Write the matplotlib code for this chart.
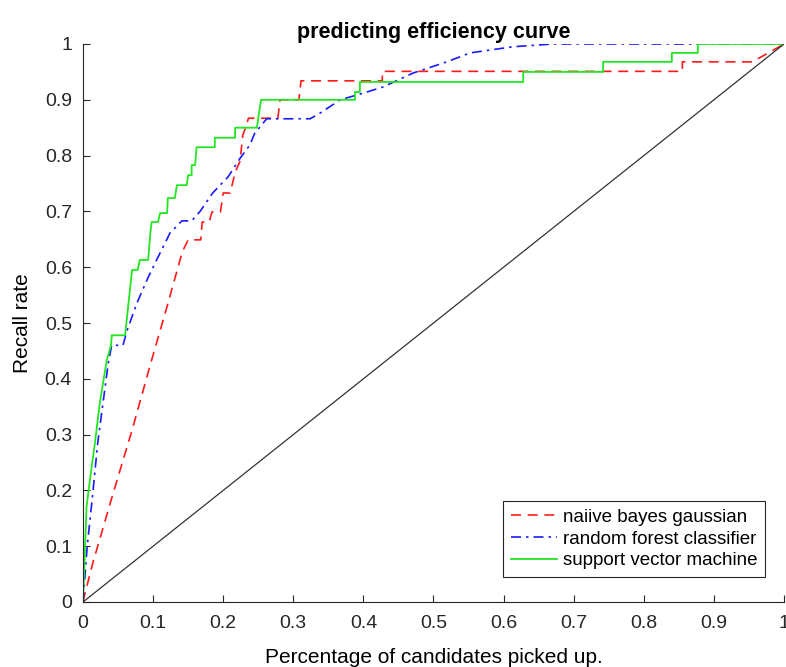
import matplotlib
matplotlib.use("Agg")
import matplotlib.pyplot as plt

plt.rcParams["font.family"] = ["Liberation Sans", "DejaVu Sans"]

# naive bayes (red dashed)
nb_x = [0, 0.003, 0.014, 0.043, 0.07, 0.098, 0.12, 0.14, 0.143, 0.15, 0.168, 0.17, 0.18,
        0.184, 0.196, 0.2, 0.21, 0.217, 0.224, 0.228, 0.232, 0.236, 0.278, 0.281, 0.308,
        0.311, 0.427, 0.427, 0.855, 0.855, 0.955, 1.0]
nb_y = [0, 0.016, 0.07, 0.195, 0.308, 0.434, 0.53, 0.62, 0.631, 0.649, 0.649, 0.681, 0.681,
        0.699, 0.699, 0.733, 0.733, 0.77, 0.79, 0.837, 0.85, 0.867, 0.867, 0.9, 0.9,
        0.934, 0.934, 0.951, 0.951, 0.968, 0.968, 1.0]

# random forest (blue dash-dot)
rf_x = [0, 0.003, 0.006, 0.014, 0.021, 0.031, 0.036, 0.041, 0.057, 0.063, 0.077, 0.093,
        0.107, 0.124, 0.141, 0.155, 0.167, 0.185, 0.207, 0.224, 0.238, 0.245, 0.262, 0.324,
        0.338, 0.367, 0.40, 0.428, 0.471, 0.519, 0.552, 0.613, 0.67, 1.0]
rf_y = [0, 0.05, 0.10, 0.195, 0.285, 0.38, 0.428, 0.46, 0.46, 0.487, 0.536, 0.582,
        0.618, 0.661, 0.683, 0.683, 0.70, 0.733, 0.762, 0.795, 0.819, 0.84, 0.866, 0.866,
        0.876, 0.9, 0.912, 0.923, 0.948, 0.968, 0.984, 0.995, 1.0, 1.0]

# support vector machine (green solid)
svm_x = [0, 0.003, 0.005, 0.01, 0.017, 0.024, 0.034, 0.04, 0.041, 0.06, 0.07, 0.078, 0.081,
         0.093, 0.096, 0.098, 0.107, 0.11, 0.12, 0.121, 0.131, 0.134, 0.148, 0.15, 0.155,
         0.155, 0.16, 0.162, 0.188, 0.188, 0.217, 0.217, 0.248, 0.254, 0.388, 0.388, 0.395,
         0.395, 0.628, 0.628, 0.742, 0.742, 0.84, 0.84, 0.877, 0.877, 1.0]
svm_y = [0, 0.1, 0.17, 0.22, 0.285, 0.357, 0.434, 0.46, 0.478, 0.478, 0.595, 0.595, 0.613,
         0.613, 0.661, 0.681, 0.681, 0.697, 0.697, 0.724, 0.724, 0.747, 0.747, 0.765, 0.765,
         0.783, 0.783, 0.815, 0.815, 0.832, 0.832, 0.85, 0.85, 0.9, 0.9, 0.914, 0.914,
         0.932, 0.932, 0.95, 0.95, 0.968, 0.968, 0.984, 0.984, 1.0, 1.0]

diag_x = [0, 1]
diag_y = [0, 1]

ticks = [0, 0.1, 0.2, 0.3, 0.4, 0.5, 0.6, 0.7, 0.8, 0.9, 1]
tick_labels = ["0", "0.1", "0.2", "0.3", "0.4", "0.5", "0.6", "0.7", "0.8", "0.9", "1"]

fig = plt.figure(figsize=(7.86, 6.67), dpi=100)
ax = fig.add_axes([83 / 786, 65 / 667, 701 / 786, 558 / 667])

ax.plot(nb_x, nb_y, color="#ff1a1a", linestyle=(0, (6, 4)), linewidth=1.2,
        label="naiive bayes gaussian")
ax.plot(rf_x, rf_y, color="#1a1aff", linestyle=(0, (6, 3, 1.5, 3)), linewidth=1.2,
        label="random forest classifier")
ax.plot(svm_x, svm_y, color="#22e622", linewidth=1.3, label="support vector machine")
ax.plot(diag_x, diag_y, color="#333333", linewidth=0.9)

ax.set_xlim(0, 1)
ax.set_ylim(0, 1)
ax.set_xticks(ticks)
ax.set_xticklabels(tick_labels)
ax.set_yticks(ticks)
ax.set_yticklabels(tick_labels)
ax.tick_params(direction="in", length=5, width=0.8, labelsize=14, colors="#262626")
ax.tick_params(axis="x", pad=9)
ax.tick_params(axis="y", pad=8)
ax.spines["top"].set_visible(False)
ax.spines["right"].set_visible(False)
for s in ("left", "bottom"):
    ax.spines[s].set_color("#262626")
    ax.spines[s].set_linewidth(0.8)

ax.set_title("predicting efficiency curve", fontsize=15.5, fontweight="bold", pad=4)
ax.set_xlabel("Percentage of candidates picked up.", fontsize=15, labelpad=12)
ax.set_ylabel("Recall rate", fontsize=15, labelpad=9)

leg = ax.legend(loc="lower right", bbox_to_anchor=(0.973, 0.045), borderaxespad=0,
                fontsize=13.5, fancybox=False, framealpha=1, edgecolor="#262626",
                handlelength=2.5, handletextpad=0.3, borderpad=0.4, labelspacing=0.25)
leg.get_frame().set_linewidth(0.8)

fig.savefig("out.png", dpi=100)
